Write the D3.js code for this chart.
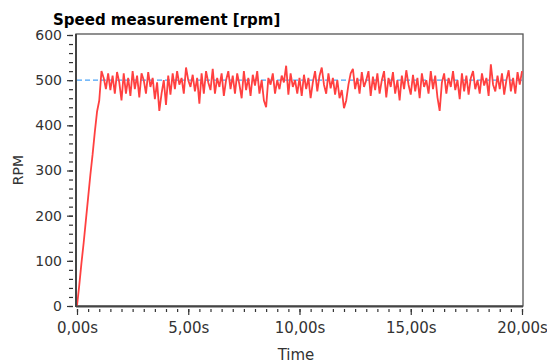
<!DOCTYPE html>
<html>
<head>
<meta charset="utf-8">
<script src="https://cdn.jsdelivr.net/npm/d3@7"></script>
<style>
  body { margin: 0; background: #fff; }
  text { font-family: "DejaVu Sans", sans-serif; }
</style>
</head>
<body>
<svg id="graph" width="547" height="363"></svg>
<script>
// data: speed sampled every 0.1 s, from 0,0 s to 20,0 s
const sampleStep = 0.1
const speed = [
  0, 45, 95, 140, 190, 240, 290, 335, 385, 430, 455,
  520, 505, 480, 515, 478, 510, 470, 518, 495, 455,
  515, 470, 505, 465, 520, 480, 510, 462, 515, 500,
  470, 518, 485, 505, 458, 495, 432, 470, 500, 445,
  510, 468, 515, 480, 520, 490, 505, 470, 528, 500,
  485, 512, 475, 505, 448, 515, 470, 520, 495, 478,
  525, 470, 505, 485, 515, 465, 500, 520, 480, 510,
  470, 515, 490, 460, 520, 478, 505, 465, 512, 488,
  520, 470, 500, 455, 440, 505, 490, 515, 470, 500,
  480, 510, 495, 532, 468, 515, 485, 500, 470, 505,
  465, 512, 480, 505, 460, 495, 520, 475, 510, 528,
  490, 470, 515, 482, 505, 468, 500, 460, 478, 438,
  455, 490, 515, 525, 480, 505, 470, 518, 485, 500,
  520, 465, 508, 478, 515, 470, 500, 520, 462, 505,
  485, 518, 470, 500, 455, 510, 480, 522, 490, 468,
  512, 475, 505, 460, 515, 485, 500, 470, 520, 480,
  510, 462, 432, 495, 515, 470, 505, 485, 520, 478,
  500, 458, 515, 475, 510, 468, 505, 520, 480, 500,
  470, 515, 488, 505, 465, 535, 490, 475, 510, 480,
  515, 468, 500, 522, 475, 505, 470, 518, 490, 520
]
const setpoint = 500
const xMajorTicks = [0, 5, 10, 15, 20]
const yMajorTicks = [0, 100, 200, 300, 400, 500, 600]

const title = 'Speed measurement [rpm]'
const xTitle = 'Time'
const yTitle = 'RPM'

///////////////////////////////////////////////////

const svg = d3.select('#graph')
const pLeft = 76, pRight = 523, pTop = 34, pBottom = 306

const x = d3.scaleLinear().domain([0, 20]).range([pLeft + 1, pRight - 1])
const y = d3.scaleLinear().domain([0, 600]).range([pBottom, pTop + 1])

const points = speed.map((v, i) => ({t: i * sampleStep, v: v}))

// frame
svg.append('rect')
  .attr('x', pLeft).attr('y', pTop)
  .attr('width', pRight - pLeft).attr('height', pBottom - pTop)
  .attr('fill', '#fff')
  .attr('stroke', '#555')
  .attr('stroke-width', 1.3)

// setpoint line
svg.append('line')
  .attr('x1', x(0)).attr('x2', x(20))
  .attr('y1', y(setpoint)).attr('y2', y(setpoint))
  .attr('stroke', '#4aa3f7')
  .attr('stroke-width', 1.3)
  .attr('stroke-dasharray', '5,3')

// measurement
const line = d3.line().x(d => x(d.t)).y(d => y(d.v))
svg.append('path')
  .datum(points)
  .attr('d', line)
  .attr('fill', 'none')
  .attr('stroke', '#ff4040')
  .attr('stroke-width', 1.8)
  .attr('stroke-linejoin', 'bevel')

// thick left / bottom axis lines
svg.append('line')
  .attr('x1', pLeft).attr('x2', pLeft).attr('y1', pTop).attr('y2', pBottom + 1)
  .attr('stroke', '#444').attr('stroke-width', 2)
svg.append('line')
  .attr('x1', pLeft).attr('x2', pRight).attr('y1', pBottom + 0.5).attr('y2', pBottom + 0.5)
  .attr('stroke', '#444').attr('stroke-width', 2)

// y axis
svg.append('g').attr('transform', `translate(${pLeft - 3},0)`)
  .call(d3.axisLeft(y).tickValues(d3.range(0, 601, 20)).tickSize(4).tickFormat(''))
const yMajor = svg.append('g').attr('transform', `translate(${pLeft - 3},0)`)
  .call(d3.axisLeft(y).tickValues(yMajorTicks).tickSize(6).tickPadding(5))
yMajor.selectAll('text').style('font-size', '14px').attr('fill', '#333')

// x axis
svg.append('g').attr('transform', `translate(0,${pBottom + 3})`)
  .call(d3.axisBottom(x).tickValues(d3.range(0, 20.01, 0.5)).tickSize(3).tickFormat(''))
const xMajor = svg.append('g').attr('transform', `translate(0,${pBottom + 3})`)
  .call(d3.axisBottom(x).tickValues(xMajorTicks).tickSize(6).tickPadding(7)
    .tickFormat(d => d3.format('.2f')(d).replace('.', ',') + 's'))
xMajor.selectAll('text').style('font-size', '15px').attr('fill', '#333')

svg.selectAll('.domain').remove()
svg.selectAll('.tick line').attr('stroke', '#333').attr('stroke-width', 1.2)

// titles
svg.append('text')
  .attr('x', 53).attr('y', 25)
  .style('font-size', '15px').style('font-weight', 'bold')
  .attr('fill', '#000')
  .text(title)

svg.append('text')
  .attr('x', 296).attr('y', 360)
  .attr('text-anchor', 'middle')
  .style('font-size', '15px')
  .attr('fill', '#333')
  .text(xTitle)

svg.append('text')
  .attr('transform', 'translate(23,170) rotate(-90)')
  .attr('text-anchor', 'middle')
  .style('font-size', '14px')
  .attr('fill', '#333')
  .text(yTitle)
</script>
</body>
</html>
